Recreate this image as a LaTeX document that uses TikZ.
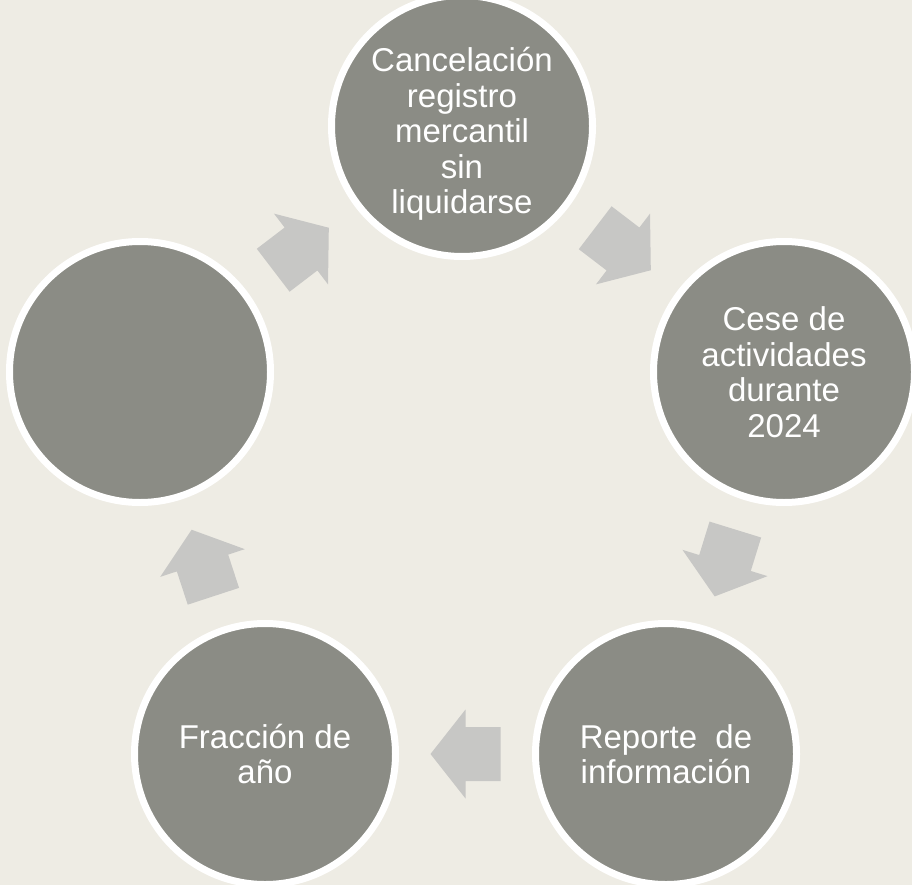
\documentclass[tikz,border=0pt]{standalone}
\usepackage{fontspec}
\setmainfont{Liberation Sans}
\usetikzlibrary{positioning}
\definecolor{bgbeige}{RGB}{238,236,228}
\definecolor{circgray}{RGB}{139,140,133}
\definecolor{arrowgray}{RGB}{199,199,197}

\begin{document}
\begin{tikzpicture}[x=1pt, y=-1pt,
		stage/.style={circle, fill=circgray, draw=white, line width=7pt, minimum size=261pt, inner sep=0pt, text=white, align=center, font=\fontsize{33}{35.5}\selectfont},
		stagetext/.style={text=white, align=center, inner sep=0pt, font=\fontsize{33}{35.5}\selectfont},
		blockarrow/.pic={\fill[arrowgray] (-35,-27) -- (0,-27) -- (0,-44.5) -- (35,0) -- (0,44.5) -- (0,27) -- (-35,27) -- cycle;}]
		% Background
		\clip (0,0) rectangle (912,885);
		\fill[bgbeige] (0,0) rectangle (912,885);
		
		% The five stages
		\node (cancel) [stage, label={[stagetext, yshift=-8pt]center:{Cancelación\\registro\\mercantil\\sin\\liquidarse}}] at (462,126) {};
		\node (cese) [stage] at (784,372) {Cese de\\actividades\\durante\\2024};
		\node (reporte) [stage] at (666,754) {Reporte~ de\\información};
		\node (fraccion) [stage] at (265,754) {Fracción de\\año};
		\node (blank) [stage] at (140,372) {};
		
		% Block arrows between the stages
		\path (blank) -- (cancel) pic[midway, sloped, allow upside down] {blockarrow};
		\path (cancel) -- (cese) pic[midway, sloped, allow upside down] {blockarrow};
		\path (cese) -- (reporte) pic[midway, sloped, allow upside down] {blockarrow};
		\path (reporte) -- (fraccion) pic[midway, sloped, allow upside down] {blockarrow};
		\path (fraccion) -- (blank) pic[midway, sloped, allow upside down] {blockarrow};
\end{tikzpicture}
\end{document}
